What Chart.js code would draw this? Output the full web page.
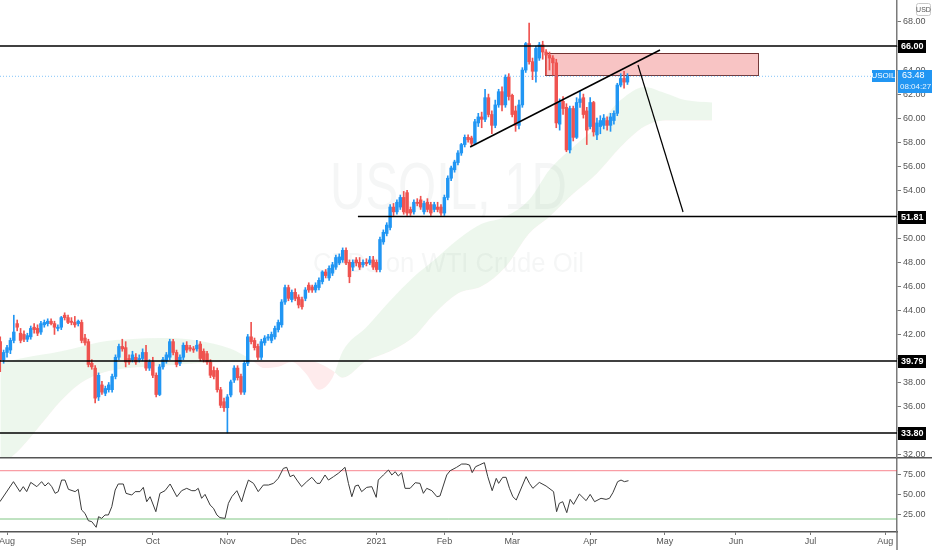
<!DOCTYPE html>
<html>
<head>
<meta charset="utf-8">
<script src="https://cdn.jsdelivr.net/npm/chart.js@4.4.1/dist/chart.umd.min.js"></script>
<style>
    html, body { margin: 0; padding: 0; background: #fff; }
    #wrap { position: relative; width: 932px; height: 550px; overflow: hidden; }
    #rsi { position: absolute; left: 0; top: 457px; }
    #main { position: absolute; left: 0; top: 0; z-index: 2; }
</style>
</head>
<body>
<div id="wrap">
    <canvas id="rsi" width="932" height="93"></canvas>
    <canvas id="main" width="932" height="462"></canvas>
</div>
<script>
// daily bars, first one sits two bars before the Aug label
const firstBar = -2;
const opens = [41.4,39.9,40.5,40.7,41.5,42.9,42.1,42.0,41.6,41.8,42.6,42.5,42.2,42.8,42.9,43.1,42.9,42.5,42.6,43.6,43.4,43.1,43.0,42.9,43.0,41.7,41.4,39.6,39.2,36.8,37.8,37.1,37.4,37.4,38.5,40.1,41.0,40.9,40.0,39.9,40.1,39.9,40.0,40.5,39.2,39.7,38.6,37.0,39.3,39.8,40.1,41.4,40.5,39.6,40.1,41.1,40.9,40.8,40.8,41.2,40.6,40.4,39.7,39.0,39.0,37.4,36.4,35.9,36.96,38.2,39.2,38.5,37.2,39.6,41.8,41.5,41.0,40.1,41.3,41.7,41.5,41.8,42.4,42.8,44.7,45.9,44.9,45.5,45.1,44.9,45.0,46.1,45.95,45.7,45.9,46.4,47.2,46.7,47.1,47.6,47.95,48.2,49.0,48.0,47.6,48.2,48.0,47.8,48.0,47.95,48.2,48.0,47.4,49.7,50.4,50.9,52.6,52.2,52.6,53.4,53.8,52.4,52.2,53.0,53.2,52.2,53.0,52.8,52.4,52.6,52.6,52.1,53.4,55.0,55.7,56.3,57.1,57.8,58.4,58.35,57.9,59.6,60.1,59.9,61.7,60.3,59.4,61.1,62.2,61.1,63.4,61.9,60.6,59.4,61.1,64.0,66.2,64.7,63.9,65.0,66.1,65.5,65.25,65.0,64.6,59.5,61.4,60.9,57.35,60.8,58.4,61.3,61.7,60.6,59.3,61.3,58.6,59.3,59.4,59.8,59.4,59.8,60.4,62.75,63.3,63.0];
const highs = [41.8,40.7,41.1,41.7,43.6,43.2,42.5,42.3,42.1,42.7,42.9,42.8,43.1,43.2,43.3,43.3,43.1,42.8,43.5,43.8,43.6,43.4,43.5,43.2,43.2,42.0,41.6,39.9,39.4,38.8,38.1,37.7,38.0,38.7,40.3,41.2,41.6,41.4,40.3,40.6,40.4,40.3,40.8,41.1,39.9,40.1,38.8,39.5,40.1,40.5,41.6,41.6,40.7,40.3,41.3,41.4,41.1,41.0,41.5,41.4,40.8,40.6,39.9,39.3,39.2,37.6,36.7,37.0,38.2,39.4,39.4,38.7,39.8,42.0,43.0,41.7,41.2,41.6,41.9,42.0,42.2,42.7,43.2,44.9,46.1,46.1,45.7,45.8,45.3,45.1,45.9,46.3,46.1,46.3,46.7,47.3,47.4,47.7,48.0,48.6,48.7,49.2,49.2,48.2,48.2,48.4,48.4,48.2,48.3,48.5,48.5,48.2,50.1,50.7,51.3,52.8,52.9,53.2,53.6,53.9,54.0,52.6,53.2,53.3,53.5,53.1,53.3,53.0,53.0,53.0,52.8,53.6,55.2,56.0,56.5,57.3,57.9,58.6,58.6,58.5,59.9,60.4,60.5,62.4,62.0,60.6,61.5,62.4,62.6,63.6,63.7,62.0,61.0,61.5,64.2,66.3,67.9,65.0,66.0,66.3,66.4,65.7,65.5,65.2,64.9,61.6,61.8,61.2,61.0,61.0,61.7,62.2,62.0,60.9,61.7,61.4,60.0,60.2,60.3,60.1,60.4,60.6,62.9,63.7,63.9,63.7];
const lows = [38.9,39.6,40.1,40.4,41.3,42.3,41.3,41.4,41.4,41.6,42.1,41.9,42.0,42.6,42.7,42.8,42.0,42.3,42.4,43.2,42.9,42.8,42.6,42.7,41.3,41.1,39.3,39.1,36.3,36.5,37.0,36.9,37.2,37.2,38.3,39.9,40.6,39.3,39.5,39.7,39.5,39.7,39.8,39.0,39.0,38.4,36.8,36.9,39.1,39.6,39.9,40.3,39.3,39.4,39.9,40.5,40.6,40.5,40.6,39.8,39.7,39.5,38.4,38.3,37.2,35.9,35.6,33.8,36.8,38.0,38.2,37.0,37.0,39.4,41.2,40.7,39.9,39.9,41.1,41.5,41.3,41.6,42.2,42.6,44.5,44.8,44.7,44.8,44.2,44.1,44.8,45.5,45.5,45.5,45.7,46.2,46.7,46.5,46.9,47.4,47.8,48.0,47.8,46.3,47.3,47.7,47.4,47.6,47.7,47.8,47.4,47.2,47.2,49.5,50.2,50.7,51.9,52.0,52.4,52.0,51.9,51.9,52.0,52.7,52.4,52.0,52.2,51.9,52.2,52.2,51.9,51.9,53.2,54.8,55.5,56.1,56.9,57.6,58.0,57.7,57.8,59.3,59.2,59.7,60.1,58.7,59.2,60.9,60.6,60.9,61.5,60.1,58.9,59.1,60.9,63.8,64.5,63.2,63.0,64.8,64.9,63.6,64.0,63.6,59.2,59.0,60.3,57.2,57.1,58.1,58.3,60.9,60.0,57.8,59.1,58.5,58.2,58.7,59.1,59.0,58.9,59.5,60.2,62.6,62.5,62.8];
const closes = [39.9,40.5,40.9,41.5,42.2,42.6,41.5,41.6,41.9,42.5,42.4,42.1,42.9,43.0,43.1,42.9,42.6,42.6,43.4,43.4,43.0,43.0,42.8,43.1,41.5,41.3,39.5,39.3,36.7,38.6,37.2,37.5,37.8,38.5,40.1,41.0,40.8,39.7,39.7,40.3,39.7,40.0,40.5,39.2,39.7,38.6,37.0,39.3,39.9,40.3,41.4,40.5,39.5,40.1,41.1,40.7,40.8,40.7,41.1,40.0,39.9,39.7,38.6,38.5,37.4,36.1,35.9,36.8,38.05,39.2,38.4,37.2,39.6,41.8,41.4,40.9,40.1,41.4,41.7,41.8,42.0,42.5,43.0,44.7,45.9,45.0,45.5,45.0,44.45,44.3,45.7,45.7,45.7,46.1,46.5,47.2,46.9,47.5,47.8,48.4,48.45,49.0,47.95,46.8,48.0,47.95,47.6,48.0,47.9,48.2,47.6,47.4,49.9,50.5,51.1,52.6,52.2,53.0,53.4,52.2,52.1,52.1,53.0,52.9,52.6,52.9,52.4,52.1,52.8,52.4,52.1,53.4,55.0,55.85,56.35,57.1,57.8,58.4,58.2,57.9,59.7,60.1,59.9,61.7,60.3,59.4,61.1,62.2,61.1,63.4,61.8,60.3,59.4,61.1,64.0,66.2,64.7,63.9,65.8,66.1,65.5,65.25,65.0,64.6,59.6,61.3,60.8,57.35,60.8,58.4,61.3,61.6,60.3,59.0,61.3,58.85,59.6,59.8,60.0,59.4,60.1,60.4,62.75,63.3,63.0,63.48];

// ichimoku cloud (already shifted forward)
const cloudBars = [-2,4,10,16,22,28,36,46,56,66,72,76,80,84,88,92,96,99,106,113,120,126,133,140,147,154,160,167,174,181,188,194,200,208];
const senkouA = [39.6,40.0,40.3,40.6,41.0,41.4,41.6,41.7,41.5,40.8,39.9,39.2,39.3,39.7,38.8,37.4,38.4,40.6,42.6,44.8,46.8,48.2,49.9,51.2,51.8,53.2,55.7,57.6,59.3,61.5,62.6,62.1,61.5,61.3];
const senkouB = [31.0,32.5,34.5,36.5,38.0,38.8,39.2,39.4,39.6,39.7,39.8,39.8,39.8,39.8,39.8,39.6,39.0,38.4,39.8,40.6,41.8,43.7,45.4,46.0,47.6,50.4,51.8,53.7,55.4,57.6,59.3,59.8,59.8,59.8];

// RSI(14)
const rsiBars = [-2.1,1.9,3.8,4.8,5.8,7.0,8.8,10.2,11.2,12.2,13.2,14.2,15.1,16.1,17.1,18.1,20.1,21.0,22.0,23.0,24.0,25.0,26.3,27.0,27.9,28.9,29.9,30.9,31.9,32.8,34.3,35.1,36.8,37.8,39.2,40.2,41.2,42.2,43.9,45.1,46.6,48.1,50.1,51.5,53.0,54.5,55.5,56.4,57.4,58.4,59.9,60.9,61.9,62.8,64.3,65.3,66.3,67.8,69.2,70.2,71.2,72.7,74.1,75.6,77.1,78.6,80.0,81.5,82.5,83.5,84.5,85.5,86.9,88.4,89.9,91.4,92.3,93.8,94.8,96.3,97.7,99.7,100.7,101.7,102.7,103.6,104.6,106.1,107.6,108.9,109.5,111.0,112.5,113.5,114.5,115.4,116.4,117.4,118.9,120.4,121.8,122.8,123.8,125.3,126.8,127.7,129.7,130.7,132.6,134.1,135.4,136.4,137.2,138.2,139.3,140.8,141.8,143.1,144.3,145.0,146.2,147.2,148.2,149.2,150.2,153.1,154.1,155.1,157.0,159.0,161.2,162.1,162.9,163.9,165.1,166.1,167.1,168.8,170.8,172.0,173.3,175.2,176.7,177.7,178.7,180.1,181.1,182.1,183.3];
const rsiValues = [41.5,66.4,54.0,60.2,54.0,65.5,60.2,66.4,61.0,65.1,60.2,51.9,54.0,68.4,68.4,56.9,54.0,56.9,31.2,27.0,17.9,16.7,9.7,22.9,20.8,25.0,25.0,35.3,56.0,63.5,63.5,51.9,49.8,54.0,54.0,59.3,41.5,47.7,29.1,51.9,55.2,63.5,47.7,55.2,58.1,55.2,55.2,58.1,45.7,50.6,37.4,33.3,25.0,21.7,20.8,39.5,47.7,55.2,41.5,56.0,68.4,64.3,54.0,62.2,62.2,64.3,70.5,82.9,84.2,72.6,74.7,68.4,60.2,66.4,71.8,64.3,64.3,74.7,68.4,72.6,76.7,84.2,64.3,47.7,61.0,62.2,54.0,59.3,60.2,46.9,68.4,74.7,80.9,74.7,78.8,73.4,77.6,58.1,58.1,65.1,64.3,51.9,58.1,55.2,47.7,48.6,74.7,80.0,84.2,88.3,88.3,87.1,77.6,85.0,87.1,90.0,72.6,55.2,70.5,64.3,71.8,71.8,58.1,47.7,43.6,72.6,64.3,58.1,65.5,61.0,54.0,29.1,39.5,41.5,27.9,44.4,38.2,51.1,42.8,50.6,41.5,45.7,44.4,45.7,52.7,66.4,68.4,66.4,67.6];
const rsiBands = [80, 20];

// drawings
const levelPrices = [66.00, 51.81, 39.79, 33.80];
const levelStarts = [null, 103.5, null, null];   // null = from left edge
const trendLine = [[136.6, 57.6], [192.6, 65.67]];
const targetLine = [[186.1, 64.42], [199.4, 52.19]];
const zoneBars = [158.7, 221.5];
const zonePrices = [65.42, 63.59];
const lastPrice = 63.48;

// axes
const monthBars = [0, 21, 43, 65, 86, 109, 129, 149, 172, 194, 215, 237, 259];
const monthLabels = ['Aug', 'Sep', 'Oct', 'Nov', 'Dec', '2021', 'Feb', 'Mar', 'Apr', 'May', 'Jun', 'Jul', 'Aug'];
const priceTicks = [32, 34, 36, 38, 40, 42, 44, 46, 48, 50, 52, 54, 56, 58, 60, 62, 64, 66, 68];
const rsiTicks = [25, 50, 75];
const barMin = -2.07, barMax = 262.5;

const UP = '#2196f3', DOWN = '#ef5350';
Chart.defaults.font.family = "'Liberation Sans', Arial, sans-serif";
Chart.defaults.font.size = 9;

const candleColors = opens.map((o, i) => closes[i] >= o ? UP : DOWN);
const wickData = opens.map((o, i) => ({x: firstBar + i, y: [lows[i], highs[i]]}));
const bodyData = opens.map((o, i) => ({x: firstBar + i, y: [o, closes[i]]}));
const hLine = (y, from) => [{x: from == null ? barMin : from, y: y}, {x: barMax, y: y}];
const pts = arr => arr.map(p => ({x: p[0], y: p[1]}));

const rightAxisFit = s => { s.width = 35; s.paddingTop = 0; s.paddingBottom = 0; };

const mainDecor = {
    id: 'mainDecor',
    beforeDatasetsDraw(chart) {
        const {ctx, chartArea: a, scales: {x, y}} = chart;
        const cx = (a.left + a.right) / 2;
        ctx.save();
        ctx.fillStyle = 'rgba(120,123,134,0.07)';
        ctx.textAlign = 'center';
        ctx.textBaseline = 'middle';
        const squeezed = (text, cy, font, width) => {
            ctx.save();
            ctx.font = font;
            const w = ctx.measureText(text).width;
            ctx.translate(cx, cy);
            ctx.scale(width / w, 1);
            ctx.fillText(text, 0, 0);
            ctx.restore();
        };
        squeezed('USOIL, 1D', 191, "66px 'Liberation Sans'", 237);
        squeezed('CFDs on WTI Crude Oil', 265, "27px 'Liberation Sans'", 271);

        // supply zone
        const x0 = x.getPixelForValue(zoneBars[0]), x1 = x.getPixelForValue(zoneBars[1]);
        const y0 = y.getPixelForValue(zonePrices[0]), y1 = y.getPixelForValue(zonePrices[1]);
        ctx.fillStyle = 'rgba(235,77,75,0.33)';
        ctx.fillRect(x0, y0, x1 - x0, y1 - y0);
        ctx.strokeStyle = 'rgba(90,25,25,0.85)';
        ctx.lineWidth = 1;
        ctx.strokeRect(Math.round(x0) + 0.5, Math.round(y0) + 0.5, Math.round(x1 - x0), Math.round(y1 - y0));
        ctx.restore();
    },
    afterDraw(chart) {
        const {ctx, chartArea: a, scales: {y}} = chart;
        ctx.save();
        ctx.textBaseline = 'middle';
        // level tags on the price scale
        levelPrices.forEach(p => {
            const py = Math.round(y.getPixelForValue(p));
            ctx.fillStyle = '#000';
            ctx.fillRect(a.right + 1, py - 6, 28, 13);
            ctx.fillStyle = '#fff';
            ctx.font = "bold 9px 'Liberation Sans'";
            ctx.textAlign = 'left';
            ctx.fillText(p.toFixed(2), a.right + 4, py + 0.5);
        });
        // last price tag
        const ly = Math.round(y.getPixelForValue(lastPrice));
        ctx.fillStyle = '#2196f3';
        ctx.fillRect(a.right + 1, ly - 6, 34, 23);
        ctx.fillRect(a.right - 25, ly - 6, 23, 12);
        ctx.fillStyle = '#fff';
        ctx.textAlign = 'left';
        ctx.font = "9px 'Liberation Sans'";
        ctx.fillText(lastPrice.toFixed(2), a.right + 5, ly);
        ctx.font = "8px 'Liberation Sans'";
        ctx.fillStyle = 'rgba(255,255,255,0.9)';
        ctx.fillText('08:04:27', a.right + 3, ly + 11);
        ctx.fillStyle = '#fff';
        ctx.textAlign = 'center';
        ctx.font = "8px 'Liberation Sans'";
        ctx.fillText('USOIL', a.right - 13.5, ly);
        // currency box
        ctx.strokeStyle = '#c8c8c8';
        ctx.lineWidth = 1;
        ctx.beginPath();
        ctx.roundRect(916.5, 3.5, 14, 12, 2);
        ctx.stroke();
        ctx.fillStyle = '#555';
        ctx.font = "7px 'Liberation Sans'";
        ctx.fillText('USD', 923.5, 10);
        ctx.restore();
    }
};

const lineDs = (data, color, width, order, dash) => ({
    type: 'line', data: data, borderColor: color, borderWidth: width, borderDash: dash || [],
    pointRadius: 0, fill: false, order: order
});

new Chart(document.getElementById('main'), {
    type: 'bar',
    data: {
        datasets: [
            {
                type: 'line', data: cloudBars.map((b, i) => ({x: b, y: senkouA[i]})),
                borderColor: 'transparent', borderWidth: 0, pointRadius: 0, cubicInterpolationMode: 'monotone',
                fill: {target: '+1', above: 'rgba(76,175,80,0.10)', below: 'rgba(242,54,69,0.10)'}, order: 30
            },
            {
                type: 'line', data: cloudBars.map((b, i) => ({x: b, y: senkouB[i]})),
                borderColor: 'transparent', borderWidth: 0, pointRadius: 0, cubicInterpolationMode: 'monotone',
                fill: false, order: 31
            },
            {data: wickData, backgroundColor: candleColors, barThickness: 1, grouped: false, order: 11},
            {data: bodyData, backgroundColor: candleColors, barThickness: 2.8, minBarLength: 1, grouped: false, order: 10},
            lineDs(hLine(lastPrice, null), 'rgba(33,150,243,0.55)', 1, 5, [1, 2]),
            ...levelPrices.map((p, i) => lineDs(hLine(p, levelStarts[i]), '#000', 1.6, 2)),
            lineDs(pts(trendLine), '#000', 1.5, 1),
            lineDs(pts(targetLine), '#000', 1.2, 1)
        ]
    },
    options: {
        animation: false,
        responsive: false,
        devicePixelRatio: 1,
        layout: {padding: {left: 0, right: 0, top: 0, bottom: 5}},
        plugins: {legend: {display: false}, tooltip: {enabled: false}},
        scales: {
            x: {type: 'linear', display: false, min: barMin, max: barMax, offset: false},
            y: {
                type: 'linear', position: 'right', min: 31.8, max: 69.83,
                afterBuildTicks: s => { s.ticks = priceTicks.map(v => ({value: v})); },
                afterFit: rightAxisFit,
                ticks: {callback: v => Number(v).toFixed(2), color: '#555', padding: 2, autoSkip: false},
                grid: {drawOnChartArea: false, tickLength: 4, color: '#777'},
                border: {color: '#7a7a7a', width: 1.5}
            }
        }
    },
    plugins: [mainDecor]
});

const rsiDecor = {
    id: 'rsiDecor',
    afterDraw(chart) {
        const {ctx, chartArea: a, width, height} = chart;
        ctx.save();
        ctx.strokeStyle = '#555';
        ctx.lineWidth = 2;
        ctx.beginPath();
        ctx.moveTo(0, 0.5);
        ctx.lineTo(width, 0.5);
        ctx.stroke();
        ctx.strokeStyle = '#7a7a7a';
        ctx.lineWidth = 1.5;
        ctx.beginPath();
        ctx.moveTo(a.right, a.bottom);
        ctx.lineTo(a.right, height);
        ctx.stroke();
        ctx.restore();
    }
};

new Chart(document.getElementById('rsi'), {
    type: 'line',
    data: {
        datasets: [
            lineDs(rsiBars.map((b, i) => ({x: b, y: rsiValues[i]})), '#3a3a3a', 1, 1),
            lineDs(hLine(rsiBands[0], null), 'rgba(242,54,69,0.6)', 1, 2),
            lineDs(hLine(rsiBands[1], null), 'rgba(76,175,80,0.7)', 1, 2)
        ]
    },
    options: {
        animation: false,
        responsive: false,
        devicePixelRatio: 1,
        layout: {padding: {left: 0, right: 0, top: 1, bottom: 0}},
        plugins: {legend: {display: false}, tooltip: {enabled: false}},
        scales: {
            x: {
                type: 'linear', min: barMin, max: barMax, offset: false,
                afterBuildTicks: s => { s.ticks = monthBars.map(v => ({value: v})); },
                afterFit: s => { s.height = 18; s.paddingLeft = 0; s.paddingRight = 0; },
                ticks: {callback: (v, i) => monthLabels[i], color: '#555', padding: 1, autoSkip: false, maxRotation: 0},
                grid: {drawOnChartArea: false, tickLength: 3, color: '#777'},
                border: {color: '#555', width: 1.5}
            },
            y: {
                type: 'linear', position: 'right', min: 3.85, max: 95.8,
                afterBuildTicks: s => { s.ticks = rsiTicks.map(v => ({value: v})); },
                afterFit: rightAxisFit,
                ticks: {callback: v => Number(v).toFixed(2), color: '#555', padding: 2, autoSkip: false},
                grid: {drawOnChartArea: false, tickLength: 4, color: '#777'},
                border: {color: '#7a7a7a', width: 1.5}
            }
        }
    },
    plugins: [rsiDecor]
});
</script>
</body>
</html>
